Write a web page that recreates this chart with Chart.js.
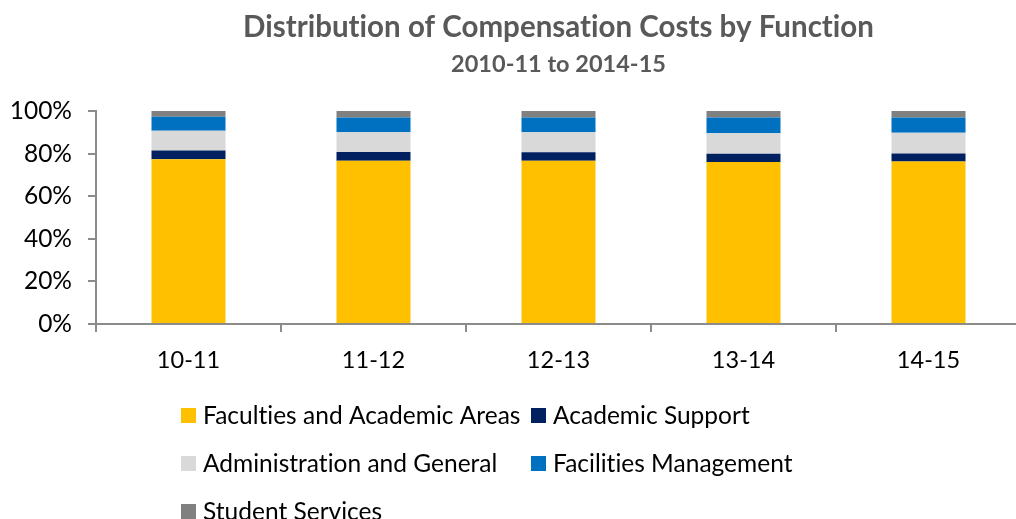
<!DOCTYPE html>
<html>
<head>
<meta charset="utf-8">
<script src="https://cdn.jsdelivr.net/npm/chart.js@4.4.1/dist/chart.umd.min.js"></script>
<style>
  html, body { margin: 0; padding: 0; background: #ffffff; overflow: hidden; }
  #wrap { width: 1024px; height: 519px; }
</style>
</head>
<body>
<div id="wrap"><canvas id="chart" width="1024" height="519"></canvas></div>
<script>
// Fiscal years on the category axis
const categories = ['10-11', '11-12', '12-13', '13-14', '14-15'];

// Share of compensation costs (%) by function, per year
const faculties = [77.4, 76.6, 76.6, 76.0, 76.3];
const academicSupport = [4.1, 4.1, 4.0, 3.9, 3.8];
const administration = [9.2, 9.3, 9.4, 9.7, 9.7];
const facilities = [6.6, 7.0, 7.0, 7.4, 7.2];
const studentServices = [2.7, 3.0, 3.0, 3.0, 3.0];

// Percentage axis ticks
const yTicks = [0, 20, 40, 60, 80, 100];

const titleText = 'Distribution of Compensation Costs by Function';
const subtitleText = '2010-11 to 2014-15';

const FONT = 'Lato, "Open Sans", sans-serif';
const AXIS_GREY = '#8c8c8c';

// A hair of letter spacing keeps "ti"/"fi" as separate glyphs
const plainGlyphs = {
  id: 'plainGlyphs',
  beforeDraw(chart) {
    if ('letterSpacing' in chart.ctx) chart.ctx.letterSpacing = '0.01px';
  }
};

// Legend laid out as a two-column grid beneath the axis
const gridLegend = {
  id: 'gridLegend',
  afterDraw(chart, args, opts) {
    const ctx = chart.ctx;
    ctx.save();
    if ('letterSpacing' in ctx) ctx.letterSpacing = '0.01px';
    ctx.font = opts.fontSize + 'px ' + FONT;
    ctx.textBaseline = 'middle';
    ctx.textAlign = 'left';
    chart.data.datasets.forEach((ds, i) => {
      const col = i % 2;
      const row = Math.floor(i / 2);
      const x = opts.columns[col];
      const y = opts.top + row * opts.rowGap;
      ctx.fillStyle = ds.backgroundColor;
      ctx.fillRect(x, y, opts.box, opts.box);
      ctx.fillStyle = opts.color;
      ctx.fillText(ds.label, x + opts.box + opts.gap, y + opts.box / 2 + 1);
    });
    ctx.restore();
  }
};

new Chart(document.getElementById('chart'), {
  type: 'bar',
  data: {
    labels: categories,
    datasets: [
      { label: 'Faculties and Academic Areas', data: faculties, backgroundColor: '#FFC000' },
      { label: 'Academic Support', data: academicSupport, backgroundColor: '#002060' },
      { label: 'Administration and General', data: administration, backgroundColor: '#D9D9D9' },
      { label: 'Facilities Management', data: facilities, backgroundColor: '#0070C0' },
      { label: 'Student Services', data: studentServices, backgroundColor: '#808080' }
    ]
  },
  options: {
    responsive: false,
    animation: false,
    devicePixelRatio: 1,
    layout: { padding: { left: 0, right: 3, top: 0, bottom: 135 } },
    datasets: {
      bar: { barPercentage: 0.4, categoryPercentage: 1.0, borderWidth: 0 }
    },
    plugins: {
      legend: { display: false },
      tooltip: { enabled: false },
      title: {
        display: true,
        text: titleText,
        fullSize: false,
        color: '#595959',
        font: { family: FONT, size: 29.5, weight: 'bold', lineHeight: 1.2 },
        padding: { top: 10, bottom: 0 }
      },
      subtitle: {
        display: true,
        text: subtitleText,
        fullSize: false,
        color: '#595959',
        font: { family: FONT, size: 23.5, weight: 'bold', lineHeight: 1.2 },
        padding: { top: 4.5, bottom: 32.9 }
      },
      gridLegend: {
        columns: [181, 531],
        top: 408,
        rowGap: 48,
        box: 15,
        gap: 7,
        fontSize: 24.5,
        color: '#000000'
      }
    },
    scales: {
      x: {
        stacked: true,
        afterFit(scale) { scale.height = 60; },
        border: { display: true, color: AXIS_GREY, width: 2 },
        grid: {
          offset: true,
          drawOnChartArea: false,
          drawTicks: true,
          tickLength: 8,
          color: AXIS_GREY,
          lineWidth: 2
        },
        ticks: {
          color: '#000000',
          padding: 14,
          font: { family: FONT, size: 23.5 }
        }
      },
      y: {
        stacked: true,
        min: 0,
        max: 100,
        afterFit(scale) { scale.width = 96; },
        afterBuildTicks(scale) { scale.ticks = yTicks.map(v => ({ value: v })); },
        border: { display: true, color: AXIS_GREY, width: 2 },
        grid: {
          drawOnChartArea: false,
          drawTicks: true,
          tickLength: 8,
          color: AXIS_GREY,
          lineWidth: 2
        },
        ticks: {
          color: '#000000',
          padding: 16,
          font: { family: FONT, size: 24.5 },
          callback: v => v + '%'
        }
      }
    }
  },
  plugins: [plainGlyphs, gridLegend]
});
</script>
</body>
</html>
